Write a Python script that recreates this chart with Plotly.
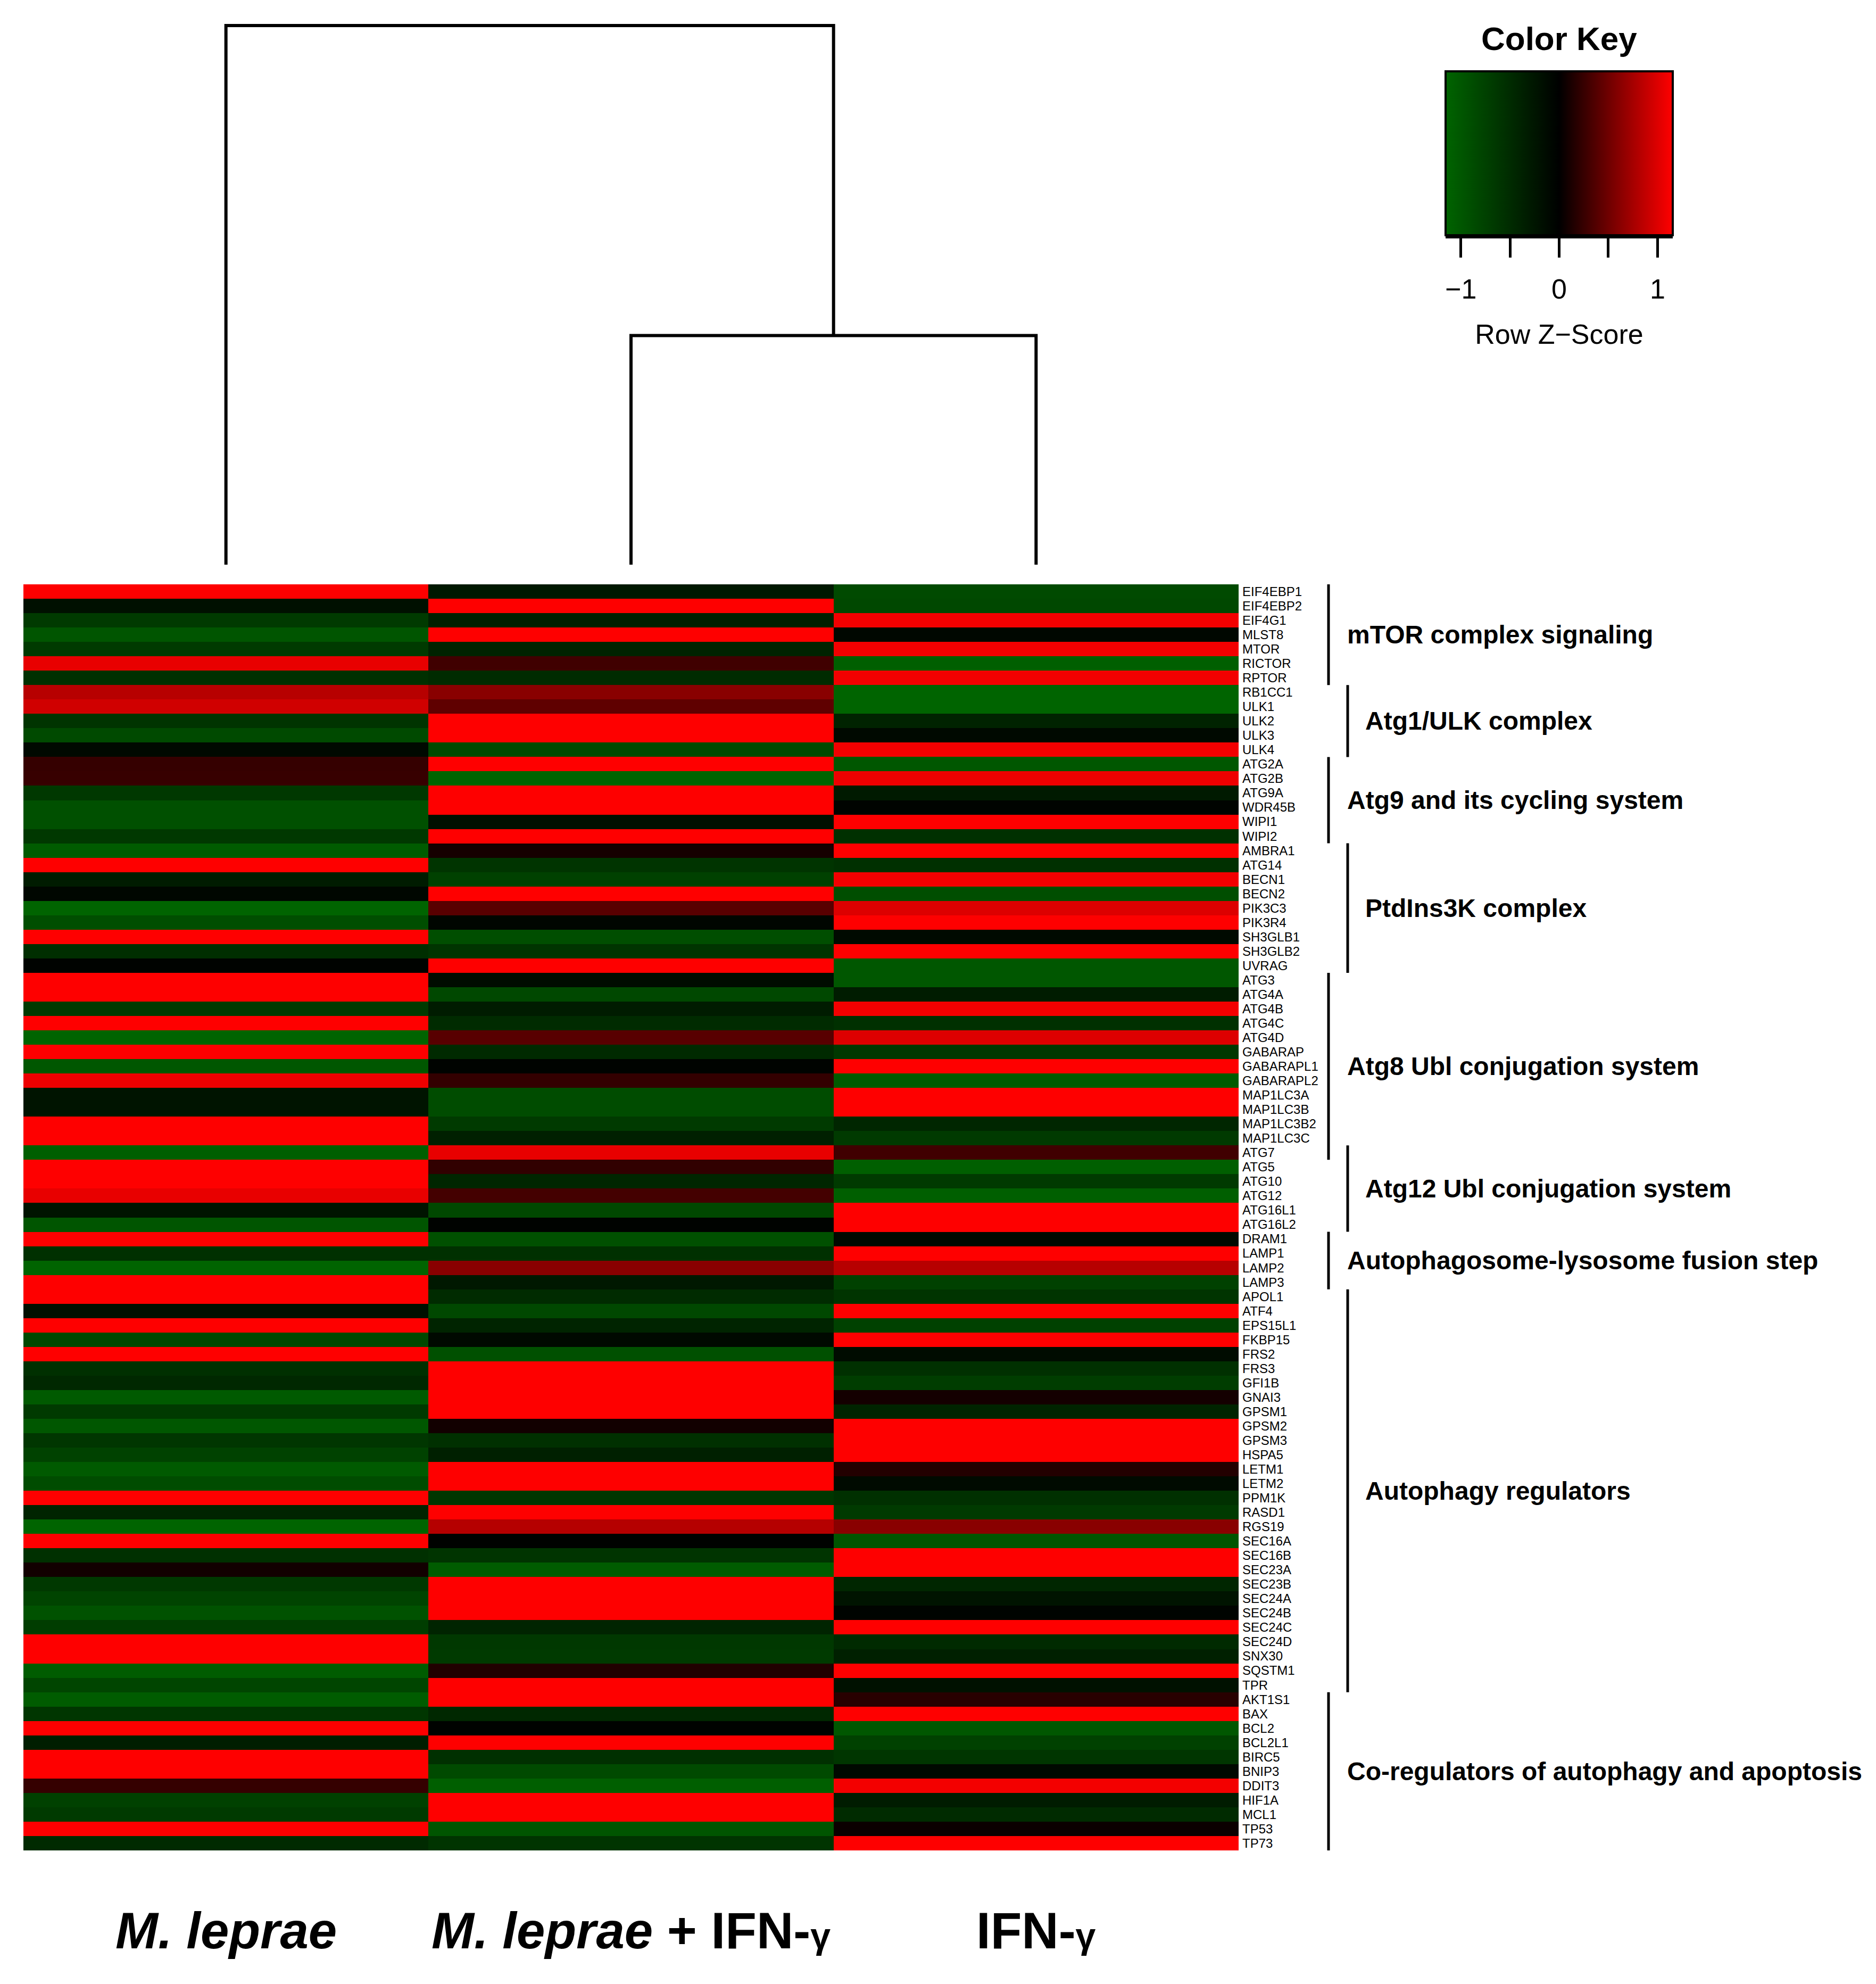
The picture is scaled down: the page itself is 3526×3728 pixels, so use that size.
import plotly.graph_objects as go

W, H = 3526, 3728

# ---------------- data ----------------
genes = ["EIF4EBP1","EIF4EBP2","EIF4G1","MLST8","MTOR","RICTOR","RPTOR","RB1CC1","ULK1","ULK2",
         "ULK3","ULK4","ATG2A","ATG2B","ATG9A","WDR45B","WIPI1","WIPI2","AMBRA1","ATG14",
         "BECN1","BECN2","PIK3C3","PIK3R4","SH3GLB1","SH3GLB2","UVRAG","ATG3","ATG4A","ATG4B",
         "ATG4C","ATG4D","GABARAP","GABARAPL1","GABARAPL2","MAP1LC3A","MAP1LC3B","MAP1LC3B2","MAP1LC3C","ATG7",
         "ATG5","ATG10","ATG12","ATG16L1","ATG16L2","DRAM1","LAMP1","LAMP2","LAMP3","APOL1",
         "ATF4","EPS15L1","FKBP15","FRS2","FRS3","GFI1B","GNAI3","GPSM1","GPSM2","GPSM3",
         "HSPA5","LETM1","LETM2","PPM1K","RASD1","RGS19","SEC16A","SEC16B","SEC23A","SEC23B",
         "SEC24A","SEC24B","SEC24C","SEC24D","SNX30","SQSTM1","TPR","AKT1S1","BAX","BCL2",
         "BCL2L1","BIRC5","BNIP3","DDIT3","HIF1A","MCL1","TP53","TP73"]

# Row Z-scores per condition
z_mleprae = [1.15,-0.18,-0.67,-0.98,-0.67,1.05,-0.55,0.83,0.94,-0.60,
             -0.85,-0.10,0.24,0.25,-0.65,-0.92,-0.92,-0.65,-1.05,1.15,
             -0.32,-0.08,-1.15,-0.90,1.15,-0.53,-0.04,1.15,1.15,-0.67,
             1.15,-1.15,1.15,-1.00,1.08,-0.23,-0.23,1.15,1.15,-1.10,
             1.15,1.15,1.05,-0.23,-0.98,1.15,-0.55,-1.15,1.15,1.15,
             -0.18,1.15,-0.83,1.15,-0.55,-0.46,-1.04,-0.67,-1.00,-0.62,
             -0.76,-1.04,-0.88,1.15,-0.42,-1.15,1.15,-0.55,0.08,-0.65,
             -0.79,-0.95,-0.70,1.15,1.15,-1.06,-0.80,-1.06,-0.62,1.15,
             -0.35,1.15,1.15,0.24,-0.75,-0.67,1.15,-0.48]
z_mleprae_ifn = [-0.28,1.15,-0.37,1.15,-0.40,0.29,-0.50,0.62,0.43,1.15,
                 1.15,-0.85,1.15,-1.15,1.15,1.15,-0.18,1.15,0.10,-0.60,
                 -0.75,1.15,0.40,-0.07,-0.90,-0.60,1.15,-0.14,-0.83,-0.32,
                 -0.50,0.40,-0.48,-0.04,0.23,-0.88,-0.88,-0.67,-0.37,1.05,
                 0.22,-0.44,0.31,-0.83,-0.03,-0.92,-0.55,0.62,-0.28,-0.50,
                 -0.83,-0.42,-0.10,-0.92,1.15,1.15,1.15,1.15,0.08,-0.55,
                 -0.37,1.15,1.15,-0.62,1.15,0.82,-0.02,-0.60,-1.06,1.15,
                 1.15,1.15,-0.42,-0.65,-0.67,0.15,1.15,1.15,-0.46,-0.03,
                 1.15,-0.55,-0.85,-1.10,1.15,1.15,-0.98,-0.60]
z_ifn = [-0.85,-0.83,1.10,-0.08,1.10,-1.10,1.10,-1.15,-1.15,-0.40,
         -0.10,1.10,-1.00,1.08,-0.30,-0.05,1.15,-0.55,1.15,-0.55,
         1.10,-0.90,1.00,1.15,-0.12,1.15,-1.00,-1.00,-0.32,1.10,
         -0.55,1.00,-0.65,1.15,-1.05,1.15,1.15,-0.44,-0.67,0.29,
         -1.10,-0.67,-1.10,1.15,1.15,-0.10,1.15,0.83,-0.75,-0.60,
         1.15,-0.75,1.15,-0.14,-0.55,-0.70,0.09,-0.42,1.15,1.15,
         1.15,0.16,-0.12,-0.55,-0.67,0.62,-0.98,1.15,1.15,-0.44,
         -0.23,-0.05,1.15,-0.48,-0.37,1.15,-0.20,0.18,1.15,-1.00,
         -0.75,-0.62,-0.10,1.10,-0.32,-0.50,0.05,1.15]

conditions = ["M. leprae", "M. leprae + IFN-γ", "IFN-γ"]
condition_labels = ["<b><i>M. leprae</i></b>",
                    "<b><i>M. leprae</i> + IFN-<span style='font-size:68px'>γ</span></b>",
                    "<b>IFN-<span style='font-size:68px'>γ</span></b>"]

# column dendrogram: (left, right, height); leaves 0,1,2 ; node 3 = first merge
dend_merges = [(1, 2, 1.70), (0, 3, 4.00)]

# functional groups (first gene, last gene)
group_names = ["mTOR complex signaling", "Atg1/ULK complex", "Atg9 and its cycling system",
               "PtdIns3K complex", "Atg8 Ubl conjugation system", "Atg12 Ubl conjugation system",
               "Autophagosome-lysosome fusion step", "Autophagy regulators",
               "Co-regulators of autophagy and apoptosis"]
group_first = ["EIF4EBP1", "RB1CC1", "ATG2A", "AMBRA1", "ATG3", "ATG7", "DRAM1", "APOL1", "AKT1S1"]
group_last = ["RPTOR", "ULK4", "WIPI2", "UVRAG", "ATG7", "ATG16L2", "LAMP3", "TPR", "TP73"]

key_ticks = [-1, -0.5, 0, 0.5, 1]
key_ticktext = ["\u22121", "", "0", "", "1"]
ZMAX = 1.155

# ---------------- layout helpers ----------------
OFF = 8  # page body margin
def px_x(p): return (p - OFF) / W
def px_y(p): return 1 - (p - OFF) / H

FONT = "Liberation Sans, Arial, sans-serif"

hm_left, hm_right, hm_top, hm_bottom = 44, 2328, 1098, 3477
leaf_y, root_y = 1061, 48
key_l, key_r, key_t, key_b = 2717, 3144, 134, 442

z = [[a, b, c] for a, b, c in zip(z_mleprae, z_mleprae_ifn, z_ifn)]
fig = go.Figure()

fig.add_trace(go.Heatmap(
    z=z, x=[0, 1, 2], y=list(range(len(genes))),
    colorscale=[[0, "#006400"], [0.5, "#000000"], [1, "#FF0000"]],
    zmin=-ZMAX, zmax=ZMAX, xgap=0, ygap=0,
    colorbar=dict(orientation="h", x=px_x(key_l), xanchor="left", y=px_y(key_t), yanchor="top",
                  lenmode="pixels", len=key_r - key_l, thicknessmode="pixels", thickness=key_b - key_t,
                  outlinewidth=4, outlinecolor="black", xpad=0, ypad=0,
                  ticks="", showticklabels=False),
    hovertemplate="%{y}<br>%{z}<extra></extra>",
))

# axis carrying the color-key ticks
fig.add_trace(go.Scatter(x=key_ticks, y=[0.5] * len(key_ticks), mode="markers",
                         marker=dict(opacity=0), xaxis="x3", yaxis="y3",
                         showlegend=False, hoverinfo="skip"))

# dendrogram from merges
node_x = {0: 0.0, 1: 1.0, 2: 2.0}
node_h = {0: 0.0, 1: 0.0, 2: 0.0}
nid = 3
for a, b, h in dend_merges:
    fig.add_trace(go.Scatter(
        x=[node_x[a], node_x[a], node_x[b], node_x[b]],
        y=[node_h[a], h, h, node_h[b]],
        mode="lines", line=dict(color="black", width=6),
        xaxis="x2", yaxis="y2", showlegend=False, hoverinfo="skip"))
    node_x[nid] = (node_x[a] + node_x[b]) / 2
    node_h[nid] = h
    nid += 1
root_h = max(h for _, _, h in dend_merges)

ext = 1.02
dend_top_px = leaf_y - (leaf_y - root_y) * ext

fig.update_layout(
    width=W, height=H, margin=dict(l=0, r=0, t=0, b=0),
    paper_bgcolor="white", plot_bgcolor="white", showlegend=False,
    font=dict(family=FONT, color="black"),
    xaxis=dict(domain=[px_x(hm_left), px_x(hm_right)], range=[-0.5, 2.5],
               showticklabels=False, showgrid=False, zeroline=False, ticks=""),
    yaxis=dict(domain=[px_y(hm_bottom), px_y(hm_top)], range=[len(genes) - 0.5, -0.5],
               side="right", tickmode="array", tickvals=list(range(len(genes))), ticktext=genes,
               tickfont=dict(size=24, family=FONT, color="black"), ticks="",
               ticklabelstandoff=6, showgrid=False, zeroline=False),
    xaxis2=dict(domain=[px_x(hm_left), px_x(hm_right)], range=[-0.5, 2.5], anchor="y2",
                visible=False),
    yaxis2=dict(domain=[px_y(leaf_y), px_y(dend_top_px)], range=[0, root_h * ext], anchor="x2",
                visible=False),
    xaxis3=dict(domain=[px_x(key_l), px_x(key_r)], range=[-ZMAX, ZMAX], anchor="y3",
                showline=True, linewidth=6, linecolor="black", showgrid=False, zeroline=False,
                ticks="outside", ticklen=36, tickwidth=5, tickcolor="black",
                tickmode="array", tickvals=key_ticks, ticktext=key_ticktext,
                tickfont=dict(size=52, family=FONT, color="black"), ticklabelstandoff=15,
                title=dict(text="Row Z\u2212Score", standoff=40,
                           font=dict(size=52, family=FONT, color="black"))),
    yaxis3=dict(domain=[px_y(key_b), px_y(key_t)], range=[0, 1], anchor="x3", visible=False),
)

annotations = []
# column labels
for i, lab in enumerate(condition_labels):
    annotations.append(dict(x=i, y=px_y(3627), xref="x", yref="paper", text=lab, showarrow=False,
                            xanchor="center", yanchor="middle",
                            font=dict(size=96, family=FONT, color="black")))
# Color key title
annotations.append(dict(x=px_x(2930), y=px_y(72), xref="paper", yref="paper", text="<b>Color Key</b>",
                        showarrow=False, xanchor="center", yanchor="middle",
                        font=dict(size=62, family=FONT, color="black")))

shapes = []
line_x = [2497, 2533]
text_x = [2530, 2564]
for k, (name, g0, g1) in enumerate(zip(group_names, group_first, group_last)):
    lvl = k % 2
    i0, i1 = genes.index(g0), genes.index(g1)
    shapes.append(dict(type="line", xref="paper", yref="y", x0=px_x(line_x[lvl]), x1=px_x(line_x[lvl]),
                       y0=i0 - 0.5, y1=i1 + 0.5, line=dict(color="black", width=5)))
    annotations.append(dict(x=px_x(text_x[lvl]), y=(i0 + i1) / 2, xref="paper", yref="y",
                            text=f"<b>{name}</b>", showarrow=False, xanchor="left", yanchor="middle",
                            font=dict(size=48, family=FONT, color="black")))

fig.update_layout(annotations=annotations, shapes=shapes)
fig.write_html("out.html")
